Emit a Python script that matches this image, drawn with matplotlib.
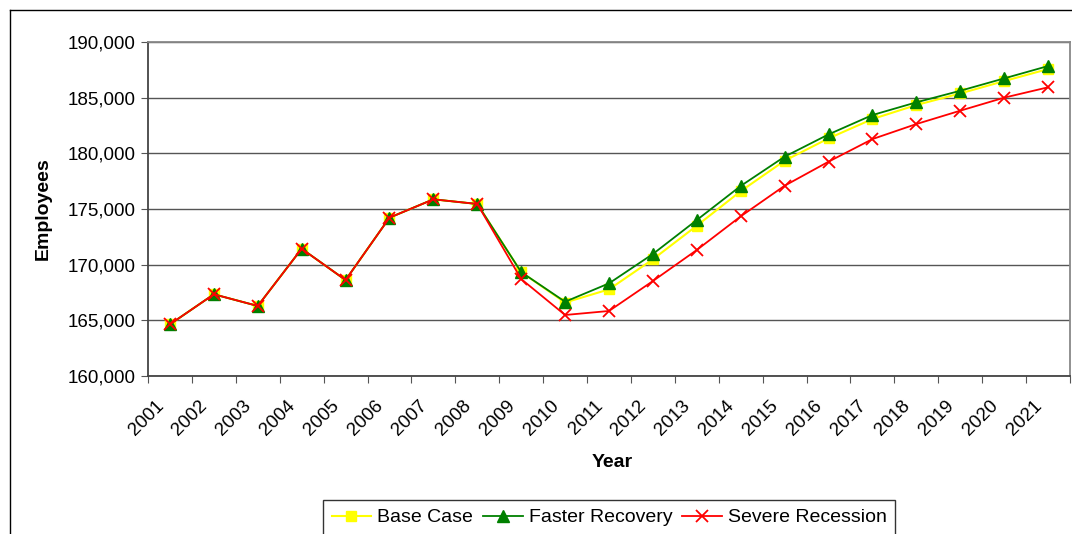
import matplotlib.pyplot as plt
from matplotlib.lines import Line2D
from matplotlib.ticker import FuncFormatter
from matplotlib.transforms import ScaledTranslation

plt.rcParams['font.family'] = ['Liberation Sans', 'DejaVu Sans']

# Employment scenarios, 2001-2021
years = [str(y) for y in range(2001, 2022)]
base_case = [164640, 167340, 166290, 171430, 168620, 174220, 175870, 175450,
             169330, 166600, 167780, 170480, 173500, 176600, 179340, 181340,
             183080, 184340, 185380, 186490, 187570]
faster_recovery = [164640, 167340, 166290, 171430, 168620, 174220, 175870, 175450,
                   169330, 166670, 168320, 170960, 174010, 177070, 179700, 181700,
                   183440, 184580, 185620, 186730, 187840]
severe_recession = [164640, 167340, 166290, 171430, 168620, 174220, 175870, 175450,
                    168710, 165480, 165840, 168530, 171320, 174340, 177090, 179250,
                    181280, 182630, 183830, 185000, 185930]
y_ticks = [160000, 165000, 170000, 175000, 180000, 185000, 190000]

W, H = 1072, 534
fig = plt.figure(figsize=(W / 100, H / 100), dpi=100)
fig.patch.set_facecolor('white')

# outer chart border (top and left visible, rest runs off the canvas)
fig.add_artist(Line2D([10 / W, 1.01], [1 - 10 / H, 1 - 10 / H], transform=fig.transFigure,
                      color='black', lw=1.0))
fig.add_artist(Line2D([10 / W, 10 / W], [1 - 10 / H, -0.01], transform=fig.transFigure,
                      color='black', lw=1.0))

ax = fig.add_axes([148 / W, 1 - 376 / H, (1070 - 148) / W, (376 - 42) / H])

x = list(range(len(years)))
ax.plot(x, base_case, color='#FFFF00', lw=1.5, marker='s', ms=7,
        mec='#FFFF00', mfc='#FFFF00', label='Base Case', zorder=3)
ax.plot(x, faster_recovery, color='#008000', lw=1.3, marker='^', ms=8,
        mec='#008000', mfc='#008000', label='Faster Recovery', zorder=4)
ax.plot(x, severe_recession, color='#FF0000', lw=1.3, marker='x', ms=8, mew=1.3,
        label='Severe Recession', zorder=5)

ax.set_xlim(-0.5, len(years) - 0.5)
ax.set_ylim(160000, 190000)
ax.set_yticks(y_ticks)
ax.yaxis.set_major_formatter(FuncFormatter(lambda v, p: f'{int(v):,}'))
ax.grid(axis='y', color='#555555', lw=1.0, zorder=1)

# category boundaries get the tick marks, labels sit at the centres
ax.set_xticks([i - 0.5 for i in range(len(years) + 1)])
ax.set_xticklabels([])
ax.set_xticks(x, minor=True)
ax.set_xticklabels(years, minor=True, rotation=45, ha='right', va='center',
                   rotation_mode='anchor', fontsize=13.5)
ax.tick_params(axis='x', which='minor', length=0, pad=14)
ax.tick_params(axis='x', which='major', length=5, color='#555555', direction='out')
ax.tick_params(axis='y', length=5, color='#555555', direction='out', labelsize=13.5, pad=4)

shift = ScaledTranslation(-9 / 100, -8 / 100, fig.dpi_scale_trans)
for lab in ax.get_xticklabels(minor=True):
    lab.set_transform(lab.get_transform() + shift)

for side in ['left', 'bottom']:
    ax.spines[side].set_color('#444444')
    ax.spines[side].set_linewidth(1.3)
for side in ['top', 'right']:
    ax.spines[side].set_color('#888888')
    ax.spines[side].set_linewidth(1.3)

ax.text(-0.114, 0.5, 'Employees', transform=ax.transAxes, rotation=90,
        ha='center', va='center', fontsize=14, fontweight='bold')
ax.text(0.503, -0.26, 'Year', transform=ax.transAxes,
        ha='center', va='center', fontsize=14, fontweight='bold')

leg = ax.legend(loc='upper center', bbox_to_anchor=(609 / W, 1 - 500 / H),
                bbox_transform=fig.transFigure, ncol=3, frameon=True, fancybox=False,
                fontsize=14, handlelength=2.05, handletextpad=0.3, columnspacing=0.5,
                borderpad=0.45, borderaxespad=0)
leg.get_frame().set_edgecolor('black')
leg.get_frame().set_linewidth(1.0)

fig.savefig('out.png', dpi=100)
